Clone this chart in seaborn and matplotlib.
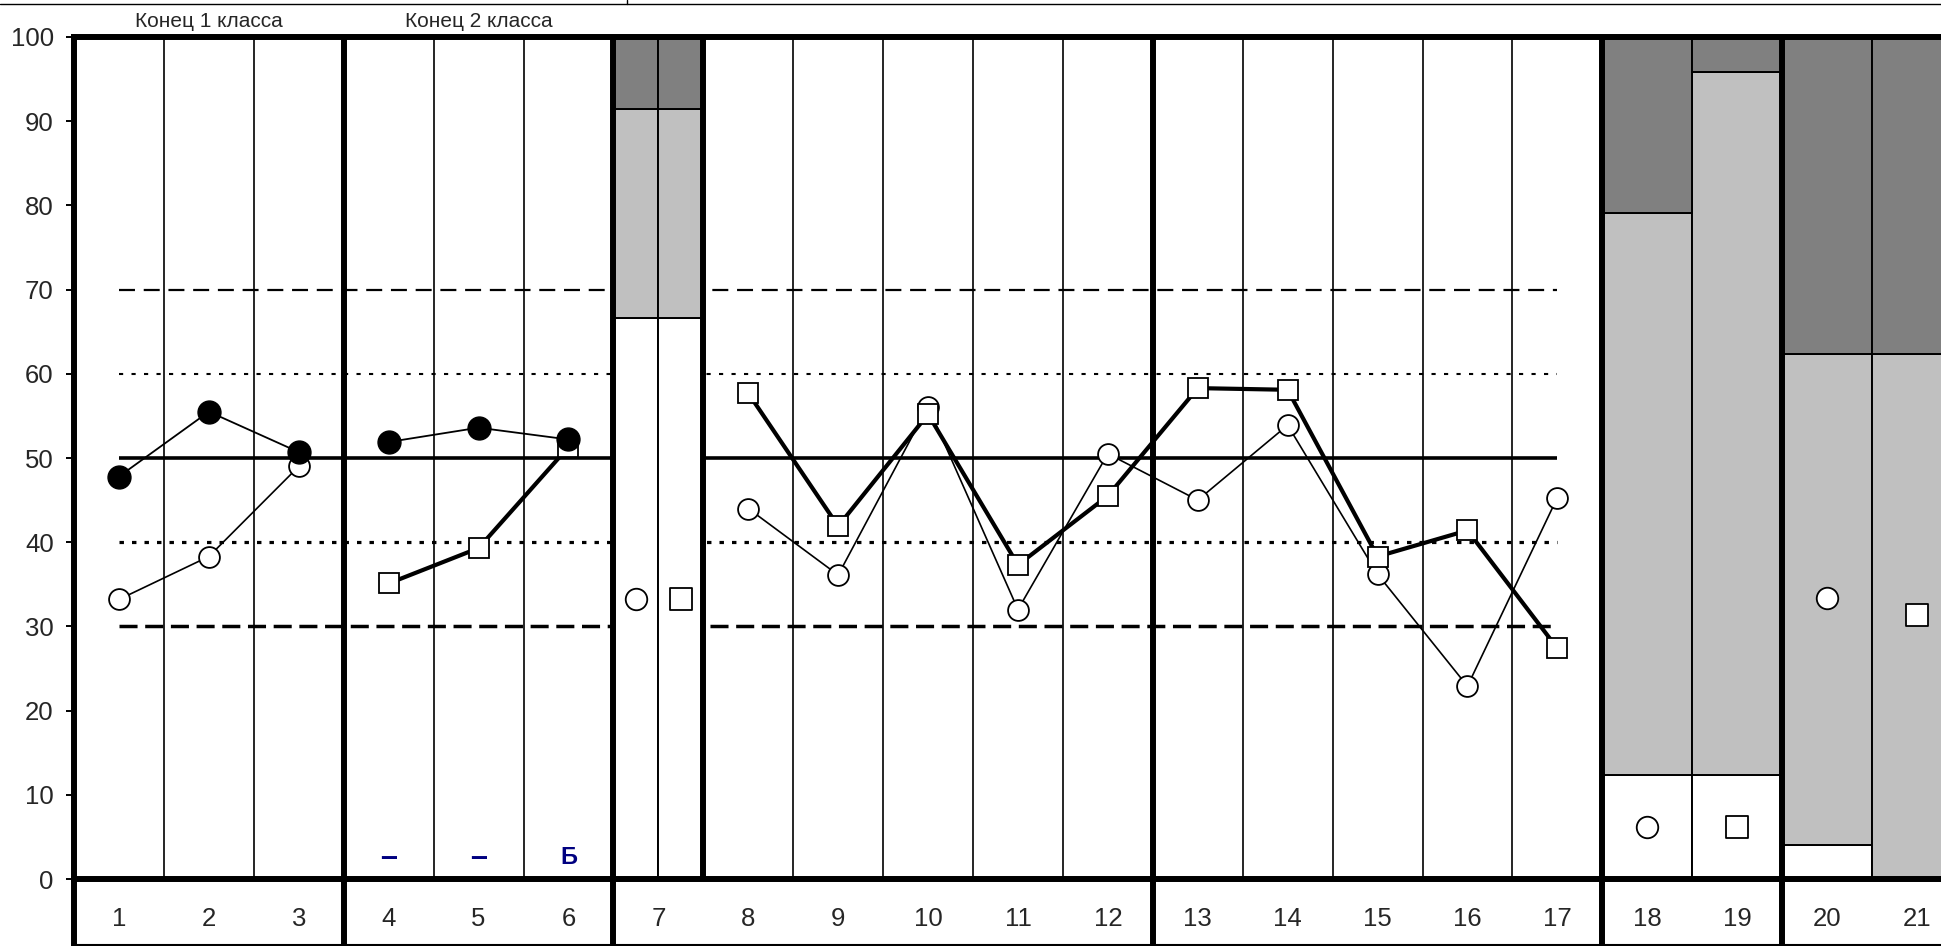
import numpy as np
import pandas as pd
import seaborn as sns
import matplotlib.pyplot as plt
import matplotlib.transforms as mtransforms
from matplotlib.lines import Line2D

# ---- data ----
columns = list(range(1, 22))
tick_labels = [str(c) for c in columns]

# filled circles, two separate runs
filled_x1 = [1, 2, 3]
filled_y1 = [47.8, 55.5, 50.7]
filled_x2 = [4, 5, 6]
filled_y2 = [51.9, 53.6, 52.2]

# open circles (thin line)
circle_x1 = [1, 2, 3]
circle_y1 = [33.2, 38.3, 49.0]
circle_x2 = [8, 9, 10, 11, 12, 13, 14, 15, 16, 17]
circle_y2 = [44.0, 36.1, 56.1, 32.0, 50.5, 45.0, 53.9, 36.2, 22.9, 45.3]

# open squares (thick line)
square_x1 = [4, 5, 6]
square_y1 = [35.1, 39.3, 51.3]
square_x2 = [8, 9, 10, 11, 12, 13, 14, 15, 16, 17]
square_y2 = [57.7, 41.9, 55.2, 37.3, 45.5, 58.3, 58.1, 38.3, 41.4, 27.4]

# stacked percentage columns: white / light grey / dark grey
bar_cols = [7, 7, 18, 19, 20, 21]
bar_kind = ["circle", "square", "circle", "square", "circle", "square"]
bar_white = [66.6, 66.6, 12.4, 12.4, 4.0, 0.0]
bar_light_top = [91.4, 91.4, 79.1, 95.8, 62.4, 62.4]
bar_total = [100, 100, 100, 100, 100, 100]
bar_marker_y = [33.2, 33.2, 6.2, 6.2, 33.4, 31.3]

ref_levels = [70, 60, 50, 40, 30]
ref_from, ref_to = 1, 17

note_cols = [4, 5, 6]
note_texts = ["–", "–", "Б"]
header_cols = [2, 5]
header_texts = ["Конец 1 класса", "Конец 2 класса"]

group_edges = [3.5, 6.5, 7.5, 12.5, 17.5, 19.5]
box_edges = [0.5, 3.5, 6.5, 12.5, 17.5, 19.5]

# ---- style ----
sns.set_style("white")
plt.rcParams["font.family"] = ["Liberation Sans", "DejaVu Sans"]
plt.rcParams["lines.scale_dashes"] = False

W, H = 1941, 946
fig = plt.figure(figsize=(W / 100, H / 100), dpi=100)
left_px, top_px, bottom_px, colw_px = 74, 37, 879, 89.9
ax = fig.add_axes([left_px / W, (H - bottom_px) / H,
                   21 * colw_px / W, (bottom_px - top_px) / H])
ax.set_xlim(0.5, 21.5)
ax.set_ylim(0, 100)

thick = 4.3
thin = 1.2

# thin column separators
for b in np.arange(1.5, 21.5, 1.0):
    if b not in group_edges:
        ax.axvline(b, color="black", lw=thin, zorder=1)

# reference levels
ref_style = {
    70: dict(lw=1.6, dashes=(11.5, 6.3)),
    60: dict(lw=1.5, dashes=(3.0, 6.0)),
    50: dict(lw=2.6),
    40: dict(lw=2.3, dashes=(3.2, 5.8)),
    30: dict(lw=2.5, dashes=(13.0, 5.5)),
}
for lev in ref_levels:
    ax.plot([ref_from, ref_to], [lev, lev], color="black", zorder=2,
            solid_capstyle="butt", dash_capstyle="butt", **ref_style[lev])

# stacked columns
counts = pd.Series(bar_cols).value_counts()
seen = {}
bx, bw = [], []
for c in bar_cols:
    n = counts[c]
    k = seen.get(c, 0)
    seen[c] = k + 1
    w = 1.0 / n
    bx.append(c - 0.5 + w * (k + 0.5))
    bw.append(w)
bx = np.array(bx)
bw = np.array(bw)
white = np.array(bar_white)
light = np.array(bar_light_top)
total = np.array(bar_total)
bar_kw = dict(edgecolor="black", linewidth=1.4, zorder=3)
ax.bar(bx, white, width=bw, color="white", **bar_kw)
ax.bar(bx, light - white, bottom=white, width=bw, color="#c0c0c0", **bar_kw)
ax.bar(bx, total - light, bottom=light, width=bw, color="#808080", **bar_kw)

# thick group separators
for g in group_edges:
    ax.axvline(g, color="black", lw=thick, zorder=4)

# box lines below the axis
blend = mtransforms.blended_transform_factory(ax.transData, ax.transAxes)
ext = -(H - bottom_px) / (bottom_px - top_px)
for e in box_edges:
    ax.plot([e, e], [ext, 0], transform=blend, color="black", lw=thick,
            clip_on=False, solid_capstyle="butt", zorder=4)

# series
open_kw = dict(color="black", marker="o", markersize=15, mfc="white",
               mec="black", mew=1.3, errorbar=None, legend=False)
for xs, ys in [(circle_x1, circle_y1), (circle_x2, circle_y2)]:
    sns.lineplot(x=xs, y=ys, ax=ax, lw=1.2, zorder=5, **open_kw)

sq_kw = dict(color="black", marker="s", markersize=15, mfc="white",
             mec="black", mew=1.3, errorbar=None, legend=False)
for xs, ys in [(square_x1, square_y1), (square_x2, square_y2)]:
    sns.lineplot(x=xs, y=ys, ax=ax, lw=3.0, zorder=6, **sq_kw)

fill_kw = dict(color="black", marker="o", markersize=16.5, mfc="black",
               mec="black", mew=1.0, errorbar=None, legend=False)
for xs, ys in [(filled_x1, filled_y1), (filled_x2, filled_y2)]:
    sns.lineplot(x=xs, y=ys, ax=ax, lw=1.3, zorder=7, **fill_kw)

# markers inside the stacked columns
bdf = pd.DataFrame({"x": bx, "y": bar_marker_y, "kind": bar_kind})
for kind, m in [("circle", "o"), ("square", "s")]:
    sub = bdf[bdf["kind"] == kind]
    sns.scatterplot(data=sub, x="x", y="y", ax=ax, marker=m, s=15.5 ** 2,
                    color="white", edgecolor="black", linewidth=1.3,
                    zorder=8, legend=False)

# notes at the bottom
for c, t in zip(note_cols, note_texts):
    ax.text(c, 2.5, t, ha="center", va="center", color="#000080",
            fontsize=22 if t == "–" else 17, fontweight="bold", zorder=9)

# headers above
for c, t in zip(header_cols, header_texts):
    ax.text(c, 1.018, t, transform=blend, ha="center", va="center",
            fontsize=15)

# axes
ax.set_xticks(columns)
ax.set_xticklabels(tick_labels)
ax.set_xticks(np.arange(1.5, 21.5, 1.0), minor=True)
ax.tick_params(axis="x", which="major", length=0, pad=20.5, labelsize=18.5)
ax.tick_params(axis="x", which="minor", length=5, width=1.4,
               direction="out", color="black")
ax.set_yticks(range(0, 101, 10))
ax.tick_params(axis="y", length=5.5, width=1.4, direction="out",
               labelsize=18.5, pad=9, color="black", left=True)
ax.set_xlabel("")
ax.set_ylabel("")
for s in ["left", "top", "bottom"]:
    ax.spines[s].set_linewidth(thick)
    ax.spines[s].set_color("black")
    ax.spines[s].set_zorder(10)
ax.spines["right"].set_visible(False)

# table remnants at the top and bottom edge of the picture
fig.add_artist(Line2D([0, 1], [1 - 4 / H, 1 - 4 / H], transform=fig.transFigure,
                      color="black", lw=1.0))
fig.add_artist(Line2D([627 / W, 627 / W], [1, 1 - 4 / H],
                      transform=fig.transFigure, color="black", lw=1.0))
fig.add_artist(Line2D([left_px / W, 1], [1.5 / H, 1.5 / H],
                      transform=fig.transFigure, color="black", lw=1.5))

fig.savefig("out.png", dpi=100)
